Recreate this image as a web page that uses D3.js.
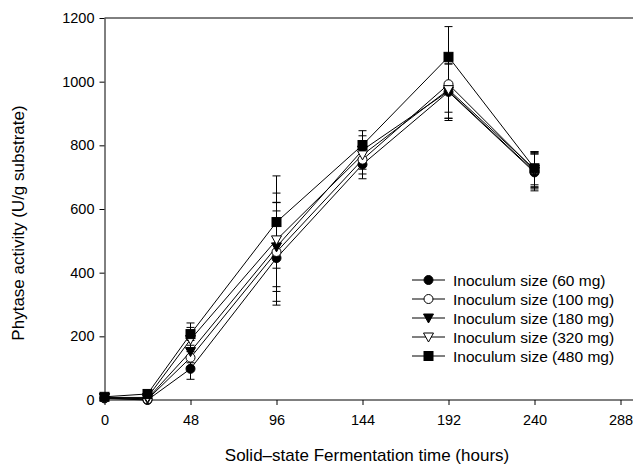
<!DOCTYPE html>
<html>
<head>
<meta charset="utf-8">
<script src="https://cdn.jsdelivr.net/npm/d3@7"></script>
<style>
  body { margin: 0; background: #fff; }
  text { font-family: "Liberation Sans", Arial, sans-serif; }
</style>
</head>
<body>
<div id="chart"></div>
<script>
// time points (hours)
var hours = [0, 24, 48, 96, 144, 192, 240];

// phytase activity per inoculum size
var s60  = [5, 0, 98, 446, 740, 968, 715];
var s100 = [6, 2, 133, 465, 755, 992, 722];
var s180 = [7, 4, 152, 481, 785, 970, 718];
var s320 = [8, 8, 190, 503, 770, 975, 725];
var s480 = [10, 19, 207, 559, 801, 1078, 728];

// error (+/-)
var e60  = [3, 2, 33, 148, 45, 90, 58];
var e100 = [3, 2, 30, 155, 45, 88, 55];
var e180 = [3, 2, 35, 140, 45, 85, 55];
var e320 = [3, 2, 38, 147, 45, 90, 55];
var e480 = [3, 3, 35, 145, 45, 95, 52];

var labels = ["Inoculum size (60 mg)", "Inoculum size (100 mg)", "Inoculum size (180 mg)",
              "Inoculum size (320 mg)", "Inoculum size (480 mg)"];
var symbols = ["circle", "circle", "triDown", "triDown", "square"];
var fills = ["#000", "#fff", "#000", "#fff", "#000"];

var xTicks = [0, 48, 96, 144, 192, 240, 288];
var yTicks = [0, 200, 400, 600, 800, 1000, 1200];

var series = [
  {vals: s60, err: e60}, {vals: s100, err: e100}, {vals: s180, err: e180},
  {vals: s320, err: e320}, {vals: s480, err: e480}
];

var W = 633, H = 464;
var svg = d3.select("#chart").append("svg")
  .attr("width", W).attr("height", H);

var x = d3.scaleLinear().domain([0, 288]).range([104.5, 620.5]);
var y = d3.scaleLinear().domain([0, 1200]).range([400, 18]);

// draw a marker symbol at (cx, cy)
function marker(g, type, cx, cy, fill) {
  if (type == "circle") {
    g.append("circle").attr("cx", cx).attr("cy", cy).attr("r", 4.5)
      .attr("fill", fill).attr("stroke", "#000").attr("stroke-width", 1);
  } else if (type == "square") {
    g.append("rect").attr("x", cx - 4.5).attr("y", cy - 4.5)
      .attr("width", 9).attr("height", 9)
      .attr("fill", fill).attr("stroke", "#000").attr("stroke-width", 1);
  } else {
    g.append("path")
      .attr("d", "M" + (cx - 5) + "," + (cy - 4) + "L" + (cx + 5) + "," + (cy - 4) + "L" + cx + "," + (cy + 5) + "Z")
      .attr("fill", fill).attr("stroke", "#000").attr("stroke-width", 1);
  }
}

// top frame line
svg.append("line")
  .attr("x1", x(0)).attr("x2", W).attr("y1", y(1200)).attr("y2", y(1200))
  .attr("stroke", "#000").attr("stroke-width", 1);

// Y axis
var yAxis = svg.append("g")
  .attr("transform", "translate(" + x(0) + ",0)")
  .call(d3.axisLeft(y).tickValues(yTicks).tickFormat(d3.format("d"))
    .tickSize(5).tickSizeOuter(0).tickPadding(5));
yAxis.selectAll("text").style("font-size", "14.5px").attr("fill", "#000");
yAxis.select(".domain").attr("stroke", "#000");

// X axis
var xAxis = svg.append("g")
  .attr("transform", "translate(0," + y(0) + ")")
  .call(d3.axisBottom(x).tickValues(xTicks).tickFormat(d3.format("d"))
    .tickSize(5).tickSizeOuter(0).tickPadding(10));
xAxis.select(".domain").attr("d", "M" + x(0) + ",0H" + W).attr("stroke", "#000");
xAxis.selectAll("text").style("font-size", "14.5px").attr("fill", "#000");

// axis titles
svg.append("text")
  .attr("x", 367).attr("y", 461)
  .attr("text-anchor", "middle").style("font-size", "17px")
  .text("Solid\u2013state Fermentation time (hours)");

svg.append("text")
  .attr("transform", "translate(24,223)rotate(-90)")
  .attr("text-anchor", "middle").style("font-size", "17px")
  .text("Phytase activity (U/g substrate)");

var line = d3.line()
  .x(function(d) { return x(d[0]); })
  .y(function(d) { return y(d[1]); });

// error bars and lines
series.forEach(function(s, k) {
  var g = svg.append("g");
  s.vals.forEach(function(v, i) {
    var cx = x(hours[i]);
    var top = y(v + s.err[i]), bot = y(v - s.err[i]);
    g.append("line").attr("x1", cx).attr("x2", cx).attr("y1", top).attr("y2", bot)
      .attr("stroke", "#000");
    [top, bot].forEach(function(yy) {
      g.append("line").attr("x1", cx - 4).attr("x2", cx + 4).attr("y1", yy).attr("y2", yy)
        .attr("stroke", "#000");
    });
  });
  g.append("path")
    .datum(hours.map(function(h, i) { return [h, s.vals[i]]; }))
    .attr("d", line).attr("fill", "none").attr("stroke", "#000").attr("stroke-width", 1);
});
// markers on top
series.forEach(function(s, k) {
  var g = svg.append("g");
  s.vals.forEach(function(v, i) {
    marker(g, symbols[k], x(hours[i]), y(v), fills[k]);
  });
});

// legend
var leg = svg.append("g");
labels.forEach(function(lab, k) {
  var ly = 280 + k * 19;
  leg.append("line").attr("x1", 412).attr("x2", 445).attr("y1", ly).attr("y2", ly)
    .attr("stroke", "#000");
  marker(leg, symbols[k], 428.5, ly, fills[k]);
  leg.append("text").attr("x", 453).attr("y", ly + 5.5)
    .style("font-size", "15.5px").text(lab);
});
</script>
</body>
</html>
